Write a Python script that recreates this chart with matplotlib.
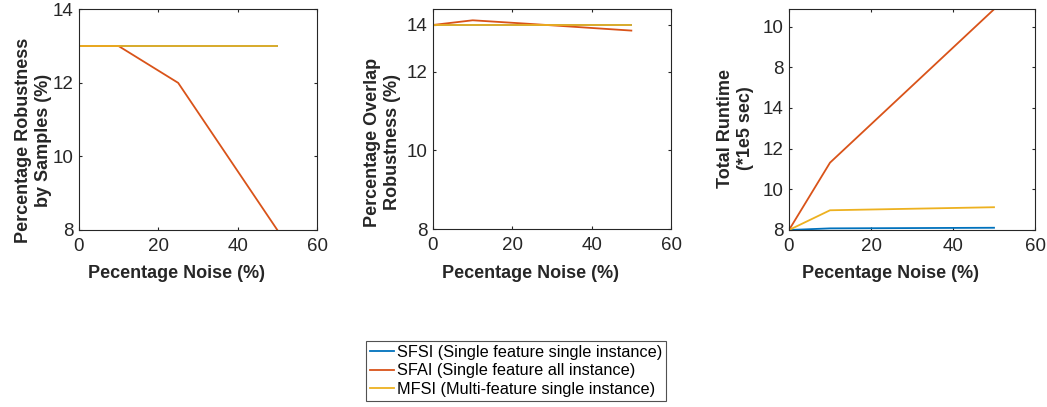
import numpy as np
import matplotlib
matplotlib.use("Agg")
import matplotlib.pyplot as plt

plt.rcParams['font.family'] = ['Liberation Sans', 'DejaVu Sans']

# ---------------- data ----------------
noise = [0, 10, 25, 50]

# panel 1: Percentage Robustness by Samples (%)
rob_sfsi = [13, 13, 13, 13]
rob_sfai = [13, 13, 12, 8]
rob_mfsi = [13, 13, 13, 13]

# panel 2: Percentage Overlap Robustness (%)
ovl_sfsi = [14, 14, 14, 14]
ovl_sfai = [14, 14.2, 14.04, 13.76]
ovl_mfsi = [14, 14, 14, 14]

# panel 3: Total Runtime (*1e5 sec) -- axis units, relabelled ticks
noise_rt = [0, 10, 50]
rt_sfsi = [8.0, 8.08, 8.11]
rt_sfai = [8.0, 11.31, 18.85]
rt_mfsi = [8.0, 8.97, 9.12]

x_ticks = [0, 20, 40, 60]
p1_yticks = [8, 10, 12, 14]
p2_yticks = [8, 10, 12, 14]
p3_ytick_pos = [8, 10, 12, 14, 16, 18]
p3_ytick_labels = ['8', '10', '12', '14', '8', '10']

series_names = ['SFSI (Single feature single instance)',
                'SFAI (Single feature all instance)',
                'MFSI (Multi-feature single instance)']
colors = ['#0072BD', '#D95319', '#EDB120']

# ---------------- layout ----------------
TXT = '#262626'
W, H = 1047, 407
fig = plt.figure(figsize=(W / 100, H / 100), dpi=100)


def frac(left, top, right, bottom):
    return [left / W, 1 - bottom / H, (right - left) / W, (bottom - top) / H]


ax1 = fig.add_axes(frac(79, 9.3, 317, 230))
ax2 = fig.add_axes(frac(433, 9.3, 671, 229))
ax3 = fig.add_axes(frac(789, 9.3, 1035, 230))

LW = 1.3

# panel 1
h = []
for ys, c in zip([rob_sfsi, rob_sfai, rob_mfsi], colors):
    ln, = ax1.plot(noise, ys, color=c, lw=LW)
    h.append(ln)
ax1.set_ylim(8, 14)
ax1.set_yticks(p1_yticks)
ax1.set_ylabel('Percentage Robustness\nby Samples (%)')

# panel 2: compressed scale above 12
SL = 0.595


def fwd(v):
    v = np.asarray(v, dtype=float)
    return np.where(v <= 12, v, 12 + (v - 12) * SL)


def inv(a):
    a = np.asarray(a, dtype=float)
    return np.where(a <= 12, a, 12 + (a - 12) / SL)


for ys, c in zip([ovl_sfsi, ovl_sfai, ovl_mfsi], colors):
    ax2.plot(noise, ys, color=c, lw=LW)
ax2.set_yscale('function', functions=(fwd, inv))
ax2.set_ylim(8, 14.67)
ax2.set_yticks(p2_yticks)
ax2.set_yticklabels([str(t) for t in p2_yticks])
ax2.yaxis.set_minor_locator(matplotlib.ticker.NullLocator())
ax2.set_ylabel('Percentage Overlap\nRobustness (%)')

# panel 3
for ys, c in zip([rt_sfsi, rt_sfai, rt_mfsi], colors):
    ax3.plot(noise_rt, ys, color=c, lw=LW)
ax3.set_ylim(8, 18.85)
ax3.set_yticks(p3_ytick_pos)
ax3.set_yticklabels(p3_ytick_labels)
ax3.set_ylabel('Total Runtime\n(*1e5 sec)')

label_coords = {ax1: (52, 140), ax2: (401, 142), ax3: (754, 128)}
xlabel_cx = {ax1: 177, ax2: 531, ax3: 891}
for ax in (ax1, ax2, ax3):
    ax.set_xlim(0, 60)
    ax.set_xticks(x_ticks)
    ax.set_xlabel('Pecentage Noise (%)', fontsize=13, fontweight='bold', color=TXT)
    ax.xaxis.label.set_verticalalignment('baseline')
    ax.xaxis.set_label_coords(xlabel_cx[ax] / W, 1 - 278 / H, transform=fig.transFigure)
    ax.yaxis.label.set_fontsize(13)
    ax.yaxis.label.set_fontweight('bold')
    ax.yaxis.label.set_color(TXT)
    ax.tick_params(axis='both', which='both', direction='in', length=2.2, width=0.8,
                   top=True, right=True, labelsize=13.5, colors=TXT)
    ax.tick_params(axis='x', pad=6)
    ax.tick_params(axis='y', pad=4)
    for sp in ax.spines.values():
        sp.set_color(TXT)
        sp.set_linewidth(0.8)
    px, py = label_coords[ax]
    ax.yaxis.set_label_coords(px / W, 1 - py / H, transform=fig.transFigure)

leg = fig.legend(h, series_names, loc='center',
                 bbox_to_anchor=(516 / W, 1 - 371 / H), fontsize=11.7,
                 frameon=True, fancybox=False, handlelength=1.5, handletextpad=0.15,
                 labelspacing=0.22, borderpad=0.22, borderaxespad=0)
leg.get_frame().set_edgecolor(TXT)
leg.get_frame().set_linewidth(0.8)
for t in leg.get_texts():
    t.set_color('black')

fig.savefig('out.png', dpi=100)
